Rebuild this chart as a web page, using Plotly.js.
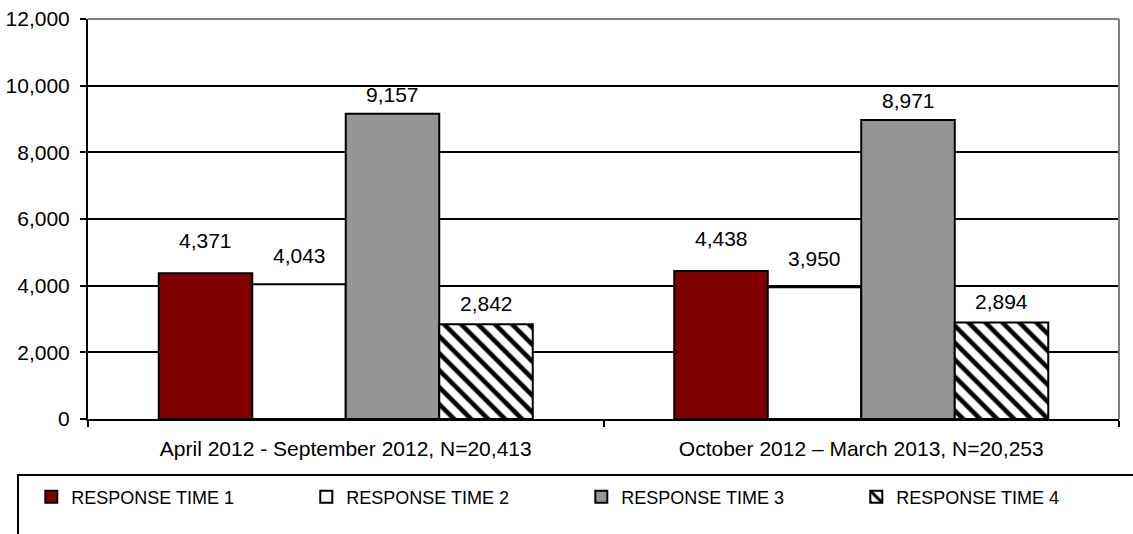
<!DOCTYPE html>
<html>
<head>
<meta charset="utf-8">
<script src="https://cdn.plot.ly/plotly-3.0.1.min.js"></script>
<style>html,body{margin:0;padding:0;background:#fff}#chart{width:1133px;height:534px}</style>
</head>
<body>
<div id="chart"></div>
<script>
// ---- data ----
const categories = ["April 2012 - September 2012, N=20,413", "October 2012 \u2013 March 2013, N=20,253"];
const seriesNames = ["RESPONSE TIME 1", "RESPONSE TIME 2", "RESPONSE TIME 3", "RESPONSE TIME 4"];
const rt1 = [4371, 4438];
const rt2 = [4043, 3950];
const rt3 = [9157, 8971];
const rt4 = [2842, 2894];
const yTickVals = [0, 2000, 4000, 6000, 8000, 10000, 12000];

// ---- styles ----
const FONT = "Liberation Sans, Arial, sans-serif";
const seriesValues = [rt1, rt2, rt3, rt4];
const fills = ["#800000", "#ffffff", "#969696", "#ffffff"];
const labelLift = [33, 29, 19, 21];
const barPx = 93.5;
const xShift = [-1.5, -0.5, 0.5, 1.5].map(k => k * barPx);

const traces = seriesValues.map((vals, i) => {
  const t = {
    type: "bar",
    name: seriesNames[i],
    x: categories,
    y: vals,
    marker: {color: fills[i], line: {color: "#000", width: 2}},
    hoverinfo: "skip"
  };
  if (i === 3) {
    t.marker.pattern = {shape: "\\", fgcolor: "#000", bgcolor: "#fff", size: 12, solidity: 0.38};
  }
  return t;
});

const annotations = [];
seriesValues.forEach((vals, i) => {
  vals.forEach((v, j) => {
    annotations.push({
      x: categories[j], y: v, xref: "x", yref: "y",
      text: v.toLocaleString("en-US"), showarrow: false,
      xshift: xShift[i], yshift: labelLift[i],
      font: {family: FONT, size: 21, color: "#000"}
    });
  });
});

const layout = {
  width: 1133, height: 534,
  margin: {l: 88, r: 14, t: 19, b: 115},
  paper_bgcolor: "#fff", plot_bgcolor: "#fff",
  font: {family: FONT, size: 21, color: "#000"},
  barmode: "group", bargap: 0.2745, bargroupgap: 0,
  showlegend: true,
  legend: {
    orientation: "h", x: -0.055, xanchor: "left", y: -0.195, yanchor: "middle",
    font: {family: FONT, size: 18, color: "#000"},
    bgcolor: "rgba(0,0,0,0)", borderwidth: 0,
    entrywidth: 230, entrywidthmode: "pixels", traceorder: "normal"
  },
  xaxis: {
    type: "category", showgrid: false, zeroline: false,
    showline: true, linecolor: "#000", linewidth: 2,
    ticks: "outside", tickson: "boundaries", ticklen: 6, tickwidth: 2, tickcolor: "#000",
    ticklabelstandoff: 10,
    tickfont: {family: FONT, size: 21, color: "#000"}
  },
  yaxis: {
    range: [0, 12000], tickvals: yTickVals, tickformat: ",d",
    showgrid: true, gridcolor: "#000", gridwidth: 2,
    zeroline: false, showline: true, linecolor: "#000", linewidth: 2,
    ticks: "outside", ticklen: 6, tickwidth: 2, tickcolor: "#000",
    ticklabelstandoff: 6,
    tickfont: {family: FONT, size: 21, color: "#000"}
  },
  annotations: annotations,
  shapes: [
    {type: "line", xref: "paper", yref: "paper", x0: 0, x1: 1, y0: 1, y1: 1, line: {color: "#808080", width: 2}},
    {type: "line", xref: "paper", yref: "paper", x0: 1, x1: 1, y0: 0, y1: 1, line: {color: "#808080", width: 2}},
    {type: "rect", xref: "paper", yref: "paper", x0: -0.0679, x1: 1.05, y0: -0.14, y1: -0.32, line: {color: "#000", width: 2}, fillcolor: "rgba(0,0,0,0)"}
  ]
};

Plotly.newPlot("chart", traces, layout, {displayModeBar: false, staticPlot: true});
</script>
</body>
</html>
